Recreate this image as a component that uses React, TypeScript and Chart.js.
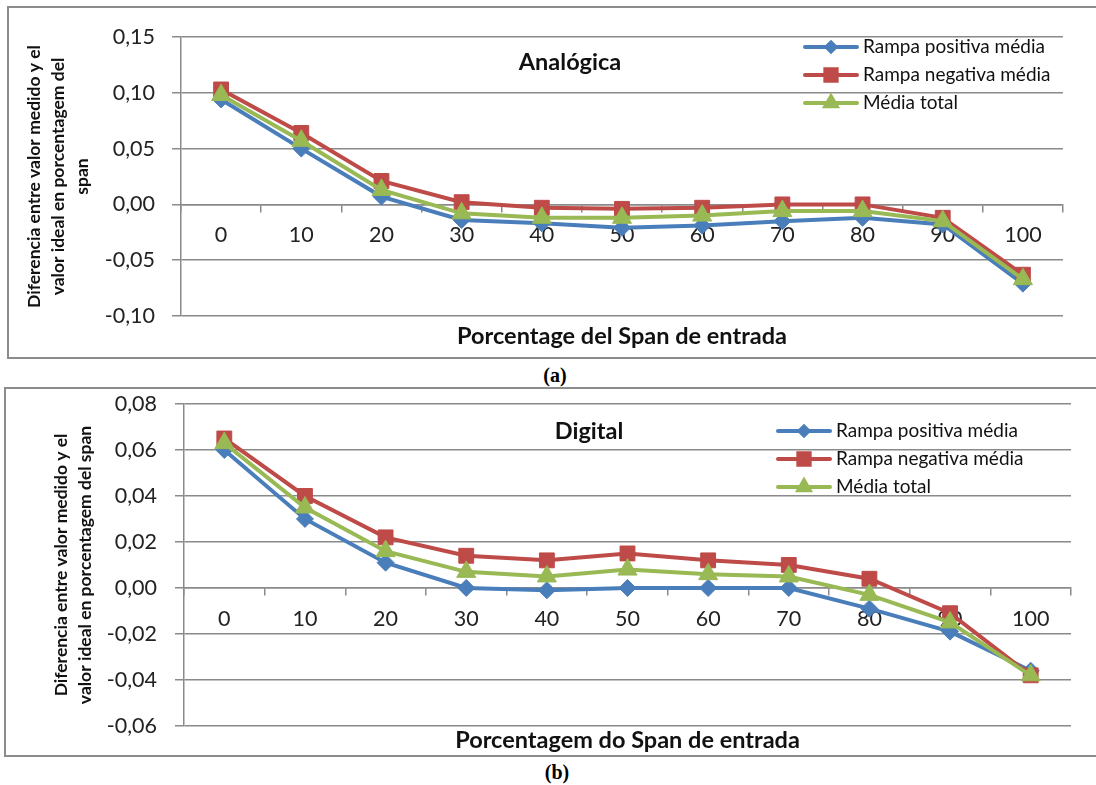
import React, { useEffect, useRef } from 'react';
import { Chart, registerables } from 'chart.js';
import { drawPoint } from 'chart.js/helpers';

Chart.register(...registerables);

// ---------- data ----------
const categories = ['0', '10', '20', '30', '40', '50', '60', '70', '80', '90', '100'];
const seriesNames = ['Rampa positiva média', 'Rampa negativa média', 'Média total'];

const analogPositive = [0.094, 0.050, 0.007, -0.014, -0.017, -0.021, -0.019, -0.015, -0.012, -0.018, -0.071];
const analogNegative = [0.103, 0.064, 0.021, 0.002, -0.003, -0.004, -0.003, 0.000, 0.000, -0.012, -0.063];
const analogTotal = [0.098, 0.057, 0.013, -0.008, -0.012, -0.012, -0.010, -0.006, -0.006, -0.015, -0.067];

const digitalPositive = [0.060, 0.030, 0.011, 0.000, -0.001, 0.000, 0.000, 0.000, -0.009, -0.019, -0.036];
const digitalNegative = [0.065, 0.040, 0.022, 0.014, 0.012, 0.015, 0.012, 0.010, 0.004, -0.011, -0.038];
const digitalTotal = [0.063, 0.035, 0.016, 0.007, 0.005, 0.008, 0.006, 0.005, -0.003, -0.015, -0.038];

const analogTitle = 'Analógica';
const digitalTitle = 'Digital';
const analogXTitle = 'Porcentage del Span de entrada';
const digitalXTitle = 'Porcentagem do Span de entrada';
const analogYTitle = ['Diferencia entre valor medido y el', 'valor ideal en porcentagem del', 'span'];
const digitalYTitle = ['Diferencia entre valor medido y el', 'valor ideal en porcentagem del span'];
const analogYRange = { min: -0.1, max: 0.15, step: 0.05 };
const digitalYRange = { min: -0.06, max: 0.08, step: 0.02 };

// ---------- styles ----------
const FONT = 'Lato, "Open Sans", "DejaVu Sans", sans-serif';
const GRID = '#8a8a8a';
const COLORS = ['#4a7ebb', '#be4b48', '#98b954'];
const POINT_STYLES = ['rectRot', 'rect', 'triangle'];
const POINT_RADII = [8.5, 10.5, 11];
const LEGEND_RADII = [4.5, 8, 6.5];
const ORDERS = [3, 2, 1];

const decorPlugin = {
  id: 'decor',
  afterDatasetsDraw(chart: any, _args: any, opts: any) {
    const { ctx, chartArea } = chart;
    ctx.save();
    ctx.fillStyle = '#111';
    ctx.font = `bold ${opts.titleSize}px ${FONT}`;
    ctx.textAlign = 'center';
    ctx.textBaseline = 'middle';
    ctx.fillText(opts.title, chartArea.left + opts.titleDx, chartArea.top + opts.titleDy);

    const x0 = chartArea.right - opts.legendDx;
    chart.data.datasets.forEach((ds: any, i: number) => {
      const y = chartArea.top + opts.legendDy + i * opts.legendGap;
      ctx.strokeStyle = ds.borderColor;
      ctx.lineWidth = 4;
      ctx.lineCap = 'round';
      ctx.beginPath();
      ctx.moveTo(x0, y);
      ctx.lineTo(x0 + opts.lineLen, y);
      ctx.stroke();
      ctx.fillStyle = ds.borderColor;
      ctx.strokeStyle = ds.borderColor;
      drawPoint(ctx, { pointStyle: ds.pointStyle, rotation: 0, radius: LEGEND_RADII[i], borderWidth: 1 }, x0 + opts.lineLen / 2, y);
      ctx.fillStyle = '#111';
      ctx.font = `${opts.legendSize}px ${FONT}`;
      ctx.textAlign = 'left';
      ctx.textBaseline = 'middle';
      ctx.fillText(ds.label, x0 + opts.lineLen + 6, y);
    });
    ctx.restore();
  },
};

function makeConfig(p: any) {
  const seriesData = [p.pos, p.neg, p.total];
  return {
    type: 'line',
    data: {
      labels: categories,
      datasets: seriesData.map((d, i) => ({
        label: seriesNames[i],
        data: d,
        borderColor: COLORS[i],
        backgroundColor: COLORS[i],
        pointBackgroundColor: COLORS[i],
        pointBorderColor: COLORS[i],
        borderWidth: 4,
        pointStyle: POINT_STYLES[i],
        pointRadius: POINT_RADII[i],
        pointBorderWidth: 1,
        order: ORDERS[i],
        tension: 0,
      })),
    },
    options: {
      responsive: false,
      animation: false,
      devicePixelRatio: 1,
      layout: { autoPadding: false, padding: p.padding },
      plugins: {
        legend: { display: false },
        tooltip: { enabled: false },
        title: {
          display: true,
          position: 'bottom',
          fullSize: false,
          text: p.xTitle,
          color: '#111',
          font: { family: FONT, size: 23.5, weight: 'bold', lineHeight: 1.2 },
          padding: { top: p.xTitlePad, bottom: 0 },
        },
        decor: p.decor,
      },
      scales: {
        x: {
          type: 'category',
          position: { y: 0 },
          offset: true,
          afterFit: (s: any) => { s.paddingLeft = 0; s.paddingRight = 0; s.paddingTop = 0; s.paddingBottom = 0; },
          grid: { offset: true, drawOnChartArea: false, color: GRID, lineWidth: 1.5, tickLength: 7 },
          border: { display: true, color: GRID, width: 1.5 },
          ticks: { color: '#222', padding: 11, maxRotation: 0, autoSkip: false, font: { family: FONT, size: 21.5 } },
        },
        y: {
          position: 'left',
          min: p.range.min,
          max: p.range.max,
          afterFit: (s: any) => { s.width = p.yWidth; s.paddingTop = 0; s.paddingBottom = 0; s.paddingLeft = 0; s.paddingRight = 0; },
          grid: { color: GRID, lineWidth: 1.5, tickLength: 9 },
          border: { display: true, color: GRID, width: 1.5 },
          ticks: {
            stepSize: p.range.step,
            color: '#222',
            padding: p.yTickPad,
            font: { family: FONT, size: 21.5 },
            callback: (v: any) => Number(v).toFixed(2).replace('.', ','),
          },
          title: {
            display: true,
            text: p.yTitle,
            color: '#111',
            font: { family: FONT, size: 17.5, weight: 'bold', lineHeight: 1.37 },
            padding: { top: p.yTitlePad, bottom: 0 },
          },
        },
      },
    },
    plugins: [decorPlugin],
  };
}

function ChartFrame(props: { left: number; top: number; width: number; height: number; cfg: any }) {
  const ref = useRef<HTMLCanvasElement | null>(null);
  useEffect(() => {
    if (!ref.current) return;
    const chart = new Chart(ref.current, props.cfg);
    return () => chart.destroy();
  }, []);
  return (
    <div
      style={{
        position: 'absolute',
        left: props.left,
        top: props.top,
        width: props.width,
        height: props.height,
        border: '2px solid #8c8c8c',
        background: '#fff',
      }}
    >
      <canvas ref={ref} width={props.width} height={props.height} style={{ display: 'block', width: props.width, height: props.height }} />
    </div>
  );
}

const analogCfg = makeConfig({
  pos: analogPositive,
  neg: analogNegative,
  total: analogTotal,
  range: analogYRange,
  xTitle: analogXTitle,
  yTitle: analogYTitle,
  padding: { left: 0, right: 33, top: 29, bottom: 6.9 },
  xTitlePad: 5.9,
  yWidth: 172,
  yTickPad: 17,
  yTitlePad: 13,
  decor: { title: analogTitle, titleSize: 23.5, titleDx: 389, titleDy: 25, legendDx: 258, legendDy: 10, legendGap: 28, lineLen: 52, legendSize: 19 },
});

const digitalCfg = makeConfig({
  pos: digitalPositive,
  neg: digitalNegative,
  total: digitalTotal,
  range: digitalYRange,
  xTitle: digitalXTitle,
  yTitle: digitalYTitle,
  padding: { left: 0, right: 25, top: 15, bottom: 0 },
  xTitlePad: 0.9,
  yWidth: 178,
  yTickPad: 18,
  yTitlePad: 43,
  decor: { title: digitalTitle, titleSize: 23.5, titleDx: 405, titleDy: 27, legendDx: 293, legendDy: 27, legendGap: 28, lineLen: 52, legendSize: 19 },
});

const capStyle: React.CSSProperties = {
  position: 'absolute',
  transform: 'translate(-50%, -50%)',
  fontFamily: '"Liberation Serif", "Times New Roman", serif',
  fontWeight: 'bold',
  fontSize: 20,
  color: '#000',
  whiteSpace: 'nowrap',
};

export default function App() {
  return (
    <div style={{ position: 'absolute', left: 0, top: 0, width: 1096, height: 785, overflow: 'hidden', background: '#fff' }}>
      <ChartFrame left={7} top={6} width={1087} height={349} cfg={analogCfg} />
      <div style={{ ...capStyle, left: 555, top: 375 }}>(a)</div>
      <ChartFrame left={4} top={387} width={1090} height={366} cfg={digitalCfg} />
      <div style={{ ...capStyle, left: 557, top: 772 }}>(b)</div>
    </div>
  );
}
